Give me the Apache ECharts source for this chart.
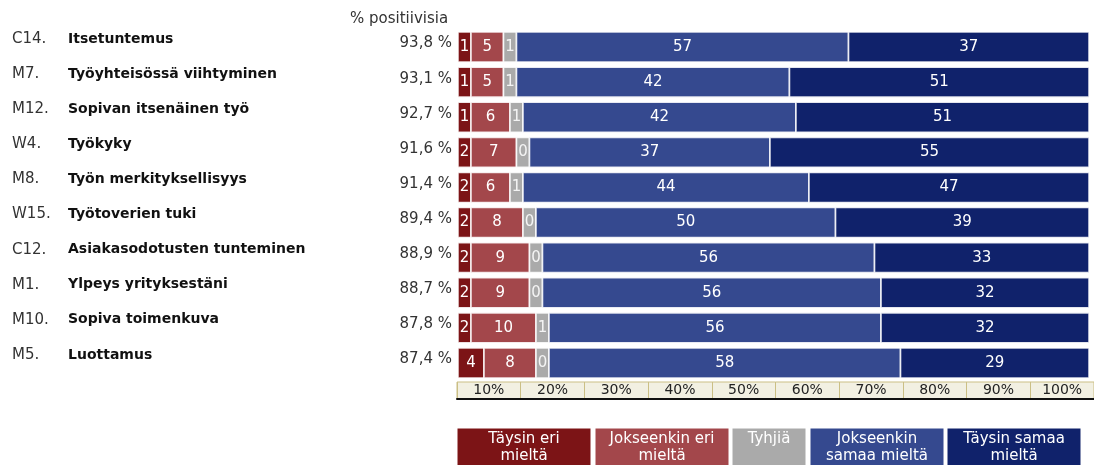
<!DOCTYPE html>
<html>
<head>
<meta charset="utf-8">
<script src="https://cdn.jsdelivr.net/npm/echarts@6/dist/echarts.min.js"></script>
<style>
html,body{margin:0;padding:0;background:#fff;}
#chart{width:1094px;height:465px;}
</style>
</head>
<body>
<div id="chart"></div>
<script>
// ---- data ----
const codes = ['C14.','M7.','M12.','W4.','M8.','W15.','C12.','M1.','M10.','M5.'];
const titles = ['Itsetuntemus','Työyhteisössä viihtyminen','Sopivan itsenäinen työ','Työkyky','Työn merkityksellisyys','Työtoverien tuki','Asiakasodotusten tunteminen','Ylpeys yrityksestäni','Sopiva toimenkuva','Luottamus'];
const positive = [93.8, 93.1, 92.7, 91.6, 91.4, 89.4, 88.9, 88.7, 87.8, 87.4];
const fullyDisagree    = [1, 1, 1, 2, 2, 2, 2, 2, 2, 4];
const somewhatDisagree = [5, 5, 6, 7, 6, 8, 9, 9, 10, 8];
const emptyAnswers     = [1, 1, 1, 0, 1, 0, 0, 0, 1, 0];
const somewhatAgree    = [57, 42, 42, 37, 44, 50, 56, 56, 56, 58];
const fullyAgree       = [37, 51, 51, 55, 47, 39, 33, 32, 32, 29];
const scaleLabels = ['10%','20%','30%','40%','50%','60%','70%','80%','90%','100%'];
const seriesNames = ['Täysin eri mieltä','Jokseenkin eri mieltä','Tyhjiä','Jokseenkin samaa mieltä','Täysin samaa mieltä'];
const legendLabels = ['Täysin eri\nmieltä','Jokseenkin eri\nmieltä','Tyhjiä','Jokseenkin\nsamaa mieltä','Täysin samaa\nmieltä'];
const headerText = '% positiivisia';

// ---- styles ----
const colors = ['#7c1416','#a3474b','#aaaaaa','#35498f','#10226b'];
const FONT = 'DejaVu Sans';
const MIN_CELL = 13;      // minimum cell width in px
const CELL_STRETCH = 1.03; // table cells slightly wider than pure share; largest cell absorbs
const BAR_H = 30;

const allSeries = [fullyDisagree, somewhatDisagree, emptyAnswers, somewhatAgree, fullyAgree];

// cell layout of one row (auto-layout table look): small cells get a minimum width,
// the largest cell takes whatever space is left up to 100 %.
function rowCells(api, i) {
  const x0 = api.coord([0, i])[0];
  const full = api.coord([100, i])[0] - x0;
  const unit = full / 100 * CELL_STRETCH;
  let big = 0;
  allSeries.forEach((arr, k) => { if (arr[i] > allSeries[big][i]) big = k; });
  const w = allSeries.map(arr => Math.max(MIN_CELL, arr[i] * unit));
  const others = w.reduce((s, v, k) => s + (k === big ? 0 : v), 0);
  w[big] = full - others;
  const xs = [];
  let x = x0;
  w.forEach(v => { xs.push(x); x += v; });
  return { xs, w };
}

function makeRenderItem(si) {
  return function (params, api) {
    const i = api.value(1);
    const cy = api.coord([0, i])[1];
    const cells = rowCells(api, i);
    const x = cells.xs[si], w = cells.w[si];
    return {
      type: 'group',
      children: [
        {
          type: 'rect',
          shape: { x: x, y: cy - BAR_H / 2, width: w, height: BAR_H },
          style: { fill: colors[si], stroke: 'rgba(255,255,255,0.85)', lineWidth: 1.6 }
        },
        {
          type: 'text',
          x: x + w / 2,
          y: cy,
          style: {
            text: String(api.value(0)),
            fill: si === 2 ? '#f4f4f4' : '#ffffff',
            font: '15px "' + FONT + '"',
            align: 'center',
            verticalAlign: 'middle'
          }
        }
      ]
    };
  };
}

const series = allSeries.map((arr, si) => ({
  name: seriesNames[si],
  type: 'custom',
  xAxisIndex: 0,
  yAxisIndex: 0,
  clip: false,
  encode: { x: 0, y: 1 },
  data: arr.map((v, i) => [v, i]),
  renderItem: makeRenderItem(si),
  animation: false
}));

// legend boxes (graphic)
const legX = [457, 595, 732, 810, 947];
const legW = [134, 134, 74, 134, 134];
const graphic = [];
seriesNames.forEach((n, i) => {
  graphic.push({
    type: 'rect',
    shape: { x: legX[i], y: 428, width: legW[i], height: 40 },
    style: { fill: colors[i], stroke: '#ffffff', lineWidth: 1 }
  });
  graphic.push({
    type: 'text',
    x: legX[i] + legW[i] / 2,
    y: 431,
    style: {
      text: legendLabels[i],
      fill: '#ffffff',
      font: '15px "' + FONT + '"',
      align: 'center',
      verticalAlign: 'top',
      lineHeight: 17
    }
  });
});

const catAxisBase = {
  type: 'category',
  gridIndex: 0,
  inverse: true,
  position: 'left',
  axisLine: { show: false },
  axisTick: { show: false },
  splitLine: { show: false }
};

const option = {
  backgroundColor: '#ffffff',
  animation: false,
  title: {
    text: headerText,
    left: 350,
    top: 12,
    textStyle: { fontFamily: FONT, fontSize: 15, fontWeight: 'normal', color: '#333' },
    padding: 0
  },
  grid: [
    { left: 458, right: 5, top: 29.5, height: 351, containLabel: false },
    { left: 457, top: 382, height: 17, width: 645, show: true, backgroundColor: '#f2f0e2', borderColor: '#cbbf85', borderWidth: 1, containLabel: false }
  ],
  xAxis: [
    { type: 'value', gridIndex: 0, min: 0, max: 100, show: false },
    {
      type: 'category', gridIndex: 1, data: scaleLabels, boundaryGap: true,
      axisLine: { show: true, lineStyle: { color: '#111', width: 2 } },
      axisTick: { show: false },
      splitLine: { show: true, interval: 0, lineStyle: { color: '#cbbf85', width: 1 } },
      axisLabel: { inside: true, margin: 2, interval: 0, fontFamily: FONT, fontSize: 14, color: '#222' }
    }
  ],
  yAxis: [
    Object.assign({}, catAxisBase, {
      data: codes,
      axisLabel: {
        align: 'left', margin: 446, formatter: v => '{a|' + v + '}\n{b| }',
        rich: {
          a: { fontFamily: FONT, fontSize: 15, color: '#333', lineHeight: 18 },
          b: { fontSize: 10, lineHeight: 16 }
        }
      }
    }),
    Object.assign({}, catAxisBase, {
      data: titles,
      axisLabel: {
        align: 'left', margin: 390, formatter: v => '{a|' + v + '}\n{b| }',
        rich: {
          a: { fontFamily: FONT, fontSize: 14, fontWeight: 'bold', color: '#111', lineHeight: 18 },
          b: { fontSize: 10, lineHeight: 16 }
        }
      }
    }),
    Object.assign({}, catAxisBase, {
      data: positive.map(v => v.toFixed(1).replace('.', ',') + ' %'),
      axisLabel: {
        align: 'right', margin: 6, formatter: v => '{a|' + v + '}\n{b| }',
        rich: {
          a: { fontFamily: FONT, fontSize: 15, color: '#333', lineHeight: 18 },
          b: { fontSize: 6, lineHeight: 7 }
        }
      }
    }),
    { type: 'value', gridIndex: 1, show: false }
  ],
  series: series,
  graphic: graphic
};

const chart = echarts.init(document.getElementById('chart'), null, { renderer: 'canvas' });
chart.setOption(option);
</script>
</body>
</html>
